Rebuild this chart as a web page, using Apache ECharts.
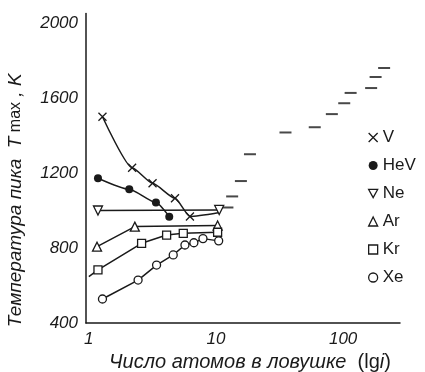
<!doctype html>
<html>
<head>
	<meta charset="utf-8">
	<title></title>
	<script type="text/javascript" src="https://cdn.jsdelivr.net/npm/echarts@6/dist/echarts.min.js"></script>
</head>
<body style="margin:0;background:#fff">
	<div id="main" style="width:425px;height:372px;"></div>
	<script type="text/javascript">
		// values
		var vX = [1.28, 2.19, 3.17, 4.76, 6.24, 10.4];
		var vY = [1500, 1228, 1145, 1065, 968, 988];
		var heX = [1.18, 2.08, 3.37, 4.29];
		var heY = [1172, 1113, 1042, 967];
		var neX = [1.18, 10.6];
		var neY = [1000, 1003];
		var arX = [1.16, 2.30, 10.3];
		var arY = [807, 914, 920];
		var krX = [1.0, 1.18, 2.60, 4.09, 5.53, 10.3];
		var krY = [647, 683, 825, 869, 878, 884];
		var xeX = [1.28, 2.44, 3.41, 4.61, 5.7, 6.7, 7.9, 10.5];
		var xeY = [528, 629, 709, 763, 816, 828, 850, 838];
		var dashX = [12.3, 13.4, 15.7, 18.5, 35.2, 59.8, 81.5, 102, 114.5, 166, 180, 210];
		var dashY = [1016, 1075, 1157, 1300, 1416, 1444, 1514, 1572, 1627, 1653, 1712, 1760];
		var yTicks = [400, 800, 1200, 1600, 2000];
		var xTicks = [1, 10, 100];

		var ink = '#1a1a1a';
		var crossPath = 'path://M0,0L10,10M10,0L0,10';
		var downTri = 'path://M0,0L10,0L5,9Z';

		function pts(xs, ys, noMark) {
			return xs.map(function (x, i) {
				var p = { value: [x, ys[i]] };
				if (noMark && noMark.indexOf(i) >= 0) p.symbol = 'none';
				return p;
			});
		}

		var myChart = echarts.init(document.getElementById('main'));

		var hollow = { color: '#fff', borderColor: ink, borderWidth: 1.3 };

		var option = {
			backgroundColor: '#fff',
			animation: false,
			grid: { left: 86, right: 25, top: 13.6, bottom: 49, containLabel: false, outerBoundsMode: 'none' },
			legend: {
				orient: 'vertical',
				left: 363,
				top: 124,
				itemGap: 11,
				itemWidth: 9,
				itemHeight: 9,
				textStyle: { fontFamily: 'Liberation Sans', fontSize: 17, color: ink },
				data: [
					{ name: 'V', icon: crossPath, itemStyle: { color: ink, borderColor: ink, borderWidth: 1.3 } },
					{ name: 'HeV', icon: 'circle', itemStyle: { color: ink, borderWidth: 0 } },
					{ name: 'Ne', icon: downTri, itemStyle: hollow },
					{ name: 'Ar', icon: 'triangle', itemStyle: hollow },
					{ name: 'Kr', icon: 'rect', itemStyle: hollow },
					{ name: 'Xe', icon: 'circle', itemStyle: hollow }
				]
			},
			xAxis: {
				type: 'log',
				min: 0.95,
				max: 280,
				logBase: 10,
				splitLine: { show: false },
				axisTick: { show: false },
				axisLine: { lineStyle: { color: ink, width: 1.5 } },
				axisLabel: {
					margin: 8,
					fontFamily: 'Liberation Sans',
					fontStyle: 'italic',
					fontSize: 17,
					color: ink,
					showMinLabel: false,
					showMaxLabel: false,
					formatter: function (v) {
						for (var i = 0; i < xTicks.length; i++) {
							if (Math.abs(v - xTicks[i]) < 1e-6 * xTicks[i]) return String(xTicks[i]);
						}
						return '';
					}
				},
				name: '{a|Число атомов в ловушке  }{b|(lg}{a|i}{b|)}',
				nameLocation: 'middle',
				nameGap: 28,
				nameTextStyle: {
					padding: [0, 0, 0, 14],
					rich: {
						a: { fontFamily: 'Liberation Sans', fontStyle: 'italic', fontSize: 20, color: ink },
						b: { fontFamily: 'Liberation Sans', fontSize: 20, color: ink }
					}
				}
			},
			yAxis: {
				type: 'value',
				min: 400,
				max: 2050,
				interval: 400,
				splitLine: { show: false },
				axisTick: { show: false },
				axisLine: { show: true, lineStyle: { color: ink, width: 1.5 } },
				axisLabel: {
					margin: 8,
					fontFamily: 'Liberation Sans',
					fontStyle: 'italic',
					fontSize: 17,
					color: ink,
					showMaxLabel: false,
					formatter: function (v) { return yTicks.indexOf(v) >= 0 ? String(v) : ''; }
				},
				name: '{a|Температура пика  T}{s| max}{a| , K}',
				nameLocation: 'middle',
				nameRotate: 90,
				nameGap: 61,
				nameTextStyle: {
					padding: [0, 64, 0, 0],
					rich: {
						a: { fontFamily: 'Liberation Sans', fontStyle: 'italic', fontSize: 19, color: ink },
						s: { fontFamily: 'Liberation Sans', fontSize: 16, color: ink }
					}
				}
			},
			series: [
				{
					name: 'V', type: 'line', smooth: 0.2, smoothMonotone: 'x',
					symbol: crossPath, symbolSize: 8,
					itemStyle: { color: ink, borderColor: ink, borderWidth: 1.3 },
					lineStyle: { color: ink, width: 1.5 },
					data: pts(vX, vY, [vX.length - 1])
				},
				{
					name: 'HeV', type: 'line', smooth: 0.2, smoothMonotone: 'x',
					symbol: 'circle', symbolSize: 8,
					itemStyle: { color: ink, borderWidth: 0 },
					lineStyle: { color: ink, width: 1.5 },
					data: pts(heX, heY)
				},
				{
					name: 'Ne', type: 'line', symbol: downTri, symbolSize: 9,
					itemStyle: hollow, lineStyle: { color: ink, width: 1.5 },
					data: pts(neX, neY)
				},
				{
					name: 'Ar', type: 'line', symbol: 'triangle', symbolSize: 9,
					itemStyle: hollow, lineStyle: { color: ink, width: 1.5 },
					data: pts(arX, arY)
				},
				{
					name: 'Kr', type: 'line', symbol: 'rect', symbolSize: 8,
					itemStyle: hollow, lineStyle: { color: ink, width: 1.5 },
					data: pts(krX, krY, [0])
				},
				{
					name: 'Xe', type: 'line', symbol: 'circle', symbolSize: 8,
					itemStyle: hollow, lineStyle: { color: ink, width: 1.5 },
					data: pts(xeX, xeY)
				},
				{
					name: 'dash', type: 'scatter', symbol: 'rect', symbolSize: [12, 2],
					itemStyle: { color: ink },
					data: pts(dashX, dashY)
				}
			]
		};

		myChart.setOption(option);
	</script>
</body>
</html>
